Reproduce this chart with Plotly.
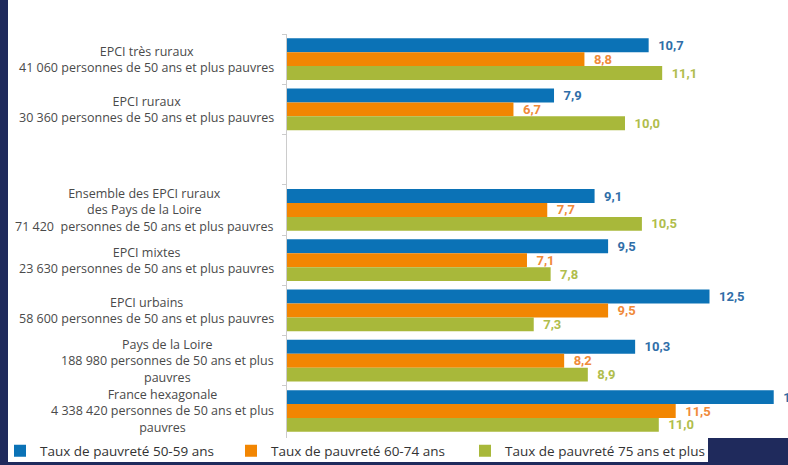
import plotly.graph_objects as go

categories = [
    "EPCI très ruraux<br>41 060 personnes de 50 ans et plus pauvres",
    "EPCI ruraux<br>30 360 personnes de 50 ans et plus pauvres",
    " ",
    "Ensemble des EPCI ruraux<br>des Pays de la Loire<br>71 420  personnes de 50 ans et plus pauvres",
    "EPCI mixtes<br>23 630 personnes de 50 ans et plus pauvres",
    "EPCI urbains<br>58 600 personnes de 50 ans et plus pauvres",
    "Pays de la Loire<br>188 980 personnes de 50 ans et plus<br>pauvres",
    "France hexagonale<br>4 338 420 personnes de 50 ans et plus<br>pauvres",
]
taux_50_59 = [10.7, 7.9, None, 9.1, 9.5, 12.5, 10.3, 14.4]
taux_60_74 = [8.8, 6.7, None, 7.7, 7.1, 9.5, 8.2, 11.5]
taux_75_plus = [11.1, 10.0, None, 10.5, 7.8, 7.3, 8.9, 11.0]
series_names = [
    "Taux de pauvreté 50-59 ans",
    "Taux de pauvreté 60-74 ans",
    "Taux de pauvreté 75 ans et plus",
]

bar_colors = ["#0b72b6", "#f28602", "#a8b83a"]
label_colors = ["#2f6ea8", "#f08a3a", "#b0bd4c"]
legend_widths = [186, 189, 215]
NAVY = "#1f2a5c"


def fmt(v):
    return "" if v is None else "\u00a0\u00a0" + f"{v:.1f}".replace(".", ",")


fig = go.Figure()
for name, vals, c, lc, lw in zip(series_names, [taux_50_59, taux_60_74, taux_75_plus],
                                  bar_colors, label_colors, legend_widths):
    fig.add_trace(go.Bar(
        y=categories, x=vals, name=name, orientation="h",
        marker=dict(color=c, line=dict(width=0)),
        text=[fmt(v) for v in vals], textposition="outside",
        textfont=dict(family="Roboto", size=13, color=lc, weight="bold"),
        cliponaxis=False, constraintext="none", legendwidth=lw,
    ))

for cat in categories:
    if cat.strip():
        fig.add_annotation(
            x=0, xref="paper", y=cat, yref="y", text=cat, showarrow=False,
            xanchor="right", xshift=-11, align="center",
            font=dict(family="Open Sans", size=12.5, color="#4a4a4a"),
        )

# decorative navy frame
W = 501.0
H = 404.0
def px(x):
    return (x - 287) / W
def py(y):
    return (438 - y) / H

for x0, x1, y0, y1 in [(0, 8, 0, 465), (0, 788, 462, 465), (708, 788, 438, 465)]:
    fig.add_shape(type="rect", xref="paper", yref="paper",
                  x0=px(x0), x1=px(x1), y0=py(y1), y1=py(y0),
                  fillcolor=NAVY, line=dict(width=0), layer="below")

fig.update_layout(
    width=788, height=465,
    margin=dict(l=287, r=0, t=34, b=27, autoexpand=False),
    paper_bgcolor="white", plot_bgcolor="white",
    barmode="group", bargap=0.17, bargroupgap=0,
    font=dict(family="Open Sans", color="#444444"),
    xaxis=dict(range=[0, W / 33.8], visible=False, fixedrange=True),
    yaxis=dict(
        categoryorder="array", categoryarray=categories, autorange="reversed",
        showticklabels=False, showgrid=False, zeroline=False,
        showline=True, linecolor="#cccccc", linewidth=1,
        ticks="outside", ticklen=4, tickcolor="#cccccc", tickson="boundaries",
    ),
    showlegend=True,
    legend=dict(
        orientation="h", xref="paper", yref="paper",
        x=px(0), xanchor="left", y=py(451), yanchor="middle",
        font=dict(family="Open Sans", size=13.5, color="#333333"),
        bgcolor="rgba(0,0,0,0)", itemwidth=30,
    ),
)

fig.write_html("out.html", config={"displayModeBar": False},
               post_script="document.body.style.margin='0px';")
